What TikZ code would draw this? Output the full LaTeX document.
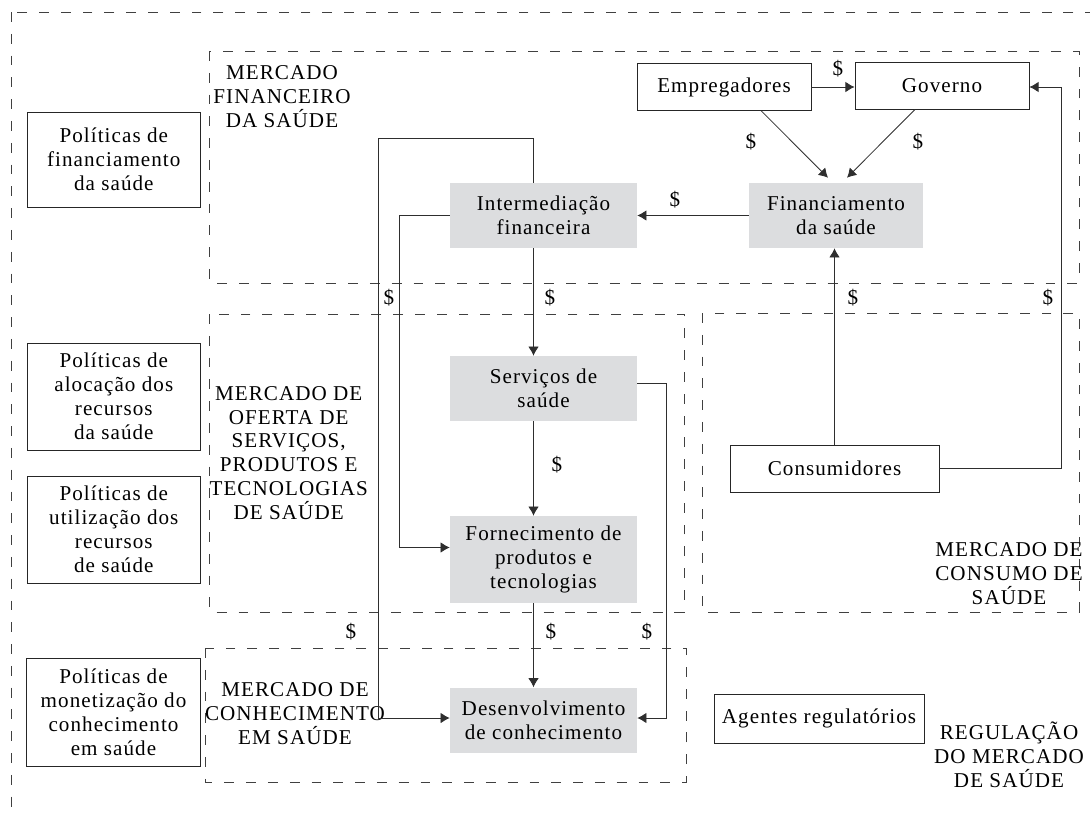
\documentclass[tikz,border=0pt]{standalone}
\usepackage{fontspec}
\setmainfont{Liberation Serif}[LetterSpace=5]
\usetikzlibrary{calc,arrows.meta}
\definecolor{boxgray}{HTML}{DCDDDF}
\tikzset{
  pol/.style={draw=black!85,line width=0.6pt,minimum width=4.34cm,align=center,inner sep=0pt},
  flow/.style={fill=boxgray,minimum width=4.675cm,minimum height=1.625cm,align=center,inner sep=0pt},
  agent/.style={draw=black!85,line width=0.6pt,minimum width=4.35cm,minimum height=1.16cm,inner sep=0pt},
  market/.style={draw=black!75,line width=0.5pt,dash pattern=on 7pt off 8.5pt},
  mlabel/.style={align=center,inner sep=0pt},
  conn/.style={draw=black!82,line width=0.6pt},
  cash/.style={inner sep=0pt}
}
\begin{document}
\begin{tikzpicture}[x=0.025cm,y=-0.025cm,font=\fontsize{15}{17}\selectfont,>={Latex[length=6.5pt,width=7.5pt]}]
\useasboundingbox (0,0) rectangle (1090,816);
% mercados
\draw[market] (11,12) rectangle (1120,840);
\draw[market] (209.6,51) rectangle (1079,283);
\draw[market] (209.6,314) rectangle (684,612);
\draw[market] (702,313) rectangle (1079,612);
\draw[market] (205.8,648) rectangle (686,782);
\node[mlabel] (lblfin) at (282,97) {MERCADO\\FINANCEIRO\\DA SAÚDE};
\node[mlabel] (lbloferta) at (288.7,453) {MERCADO DE\\OFERTA DE\\SERVIÇOS,\\PRODUTOS E\\TECNOLOGIAS\\DE SAÚDE};
\node[mlabel] (lblconh) at (295,714) {MERCADO DE\\CONHECIMENTO\\EM SAÚDE};
\node[mlabel] (lblcons) at (1009,574) {MERCADO DE\\CONSUMO DE\\SAÚDE};
\node[mlabel] (lblreg) at (1009,755) {REGULAÇÃO\\DO MERCADO\\DE SAÚDE};
% politicas
\node[pol,minimum height=2.375cm] (polfin) at (113.8,159.5) {Políticas de\\financiamento\\da saúde};
\node[pol,minimum height=2.675cm] (polaloc) at (113.8,396.5) {Políticas de\\alocação dos\\recursos\\da saúde};
\node[pol,minimum height=2.675cm] (polutil) at (113.8,529.5) {Políticas de\\utilização dos\\recursos\\de saúde};
\node[pol,minimum height=2.7cm] (polmon) at (113.5,712) {Políticas de\\monetização do\\conhecimento\\em saúde};
% agentes
\node[agent] (emp) at (724,87) {Empregadores};
\node[agent,minimum height=1.175cm] (gov) at (942,85.5) {Governo};
\node[agent,minimum width=5.225cm,minimum height=1.175cm] (cons) at (834.5,468.5) {Consumidores};
\node[agent,minimum width=5.25cm,minimum height=1.225cm] (agen) at (819,718.5) {Agentes regulatórios};
% fluxos
\node[flow,minimum width=4.35cm] (fin) at (836,215.5) {Financiamento\\da saúde};
\node[flow] (int) at (543.5,215.5) {Intermediação\\financeira};
\node[flow] (serv) at (543.5,388.5) {Serviços de\\saúde};
\node[flow,minimum height=2.175cm] (forn) at (543.5,559.5) {Fornecimento de\\produtos e\\tecnologias};
\node[flow] (desen) at (543.5,720) {Desenvolvimento\\de conhecimento};
% conexoes
\draw[conn,->] (emp.east) -- (emp.east -| gov.west);
\draw[conn,->] ($(emp.south)+(37,0)$) -- ($(fin.north)+(-8,-5)$);
\draw[conn,->] ($(gov.south)+(-27,0)$) -- ($(fin.north)+(11,-5)$);
\draw[conn,->] (fin.west) -- (fin.west -| int.east);
\draw[conn,->] ($(int.south)+(-10,0)$) -- ($(serv.north)+(-10,0)$);
\draw[conn,->] ($(serv.south)+(-10,0)$) -- ($(forn.north)+(-10,0)$);
\draw[conn,->] ($(forn.south)+(-10,0)$) -- ($(desen.north)+(-10,0)$);
\draw[conn,->] ($(int.north)+(-10,0)$) -- ++(0,-44) -- ++(-155,0) |- ($(desen.west)+(0,-2)$);
\draw[conn,->] (int.west) -- ++(-50,0) |- ($(forn.west)+(0,-12)$);
\draw[conn,->] ($(serv.east)+(0,-5)$) -- ++(29,0) |- ($(desen.east)+(0,-2)$);
\draw[conn,->] (cons.north) -- (cons.north |- fin.south);
\draw[conn,->] (cons.east) -- ++(122,0) |- ($(gov.east)+(0,1.5)$);
% valores
\foreach \x/\y [count=\i] in {838/69,751/142,918/142,675/200,389/298,550/298,853/298,1048/298,557/465,351/632,551/632,647/632}
  \node[cash] (cash\i) at (\x,\y) {\$};
\end{tikzpicture}
\end{document}
